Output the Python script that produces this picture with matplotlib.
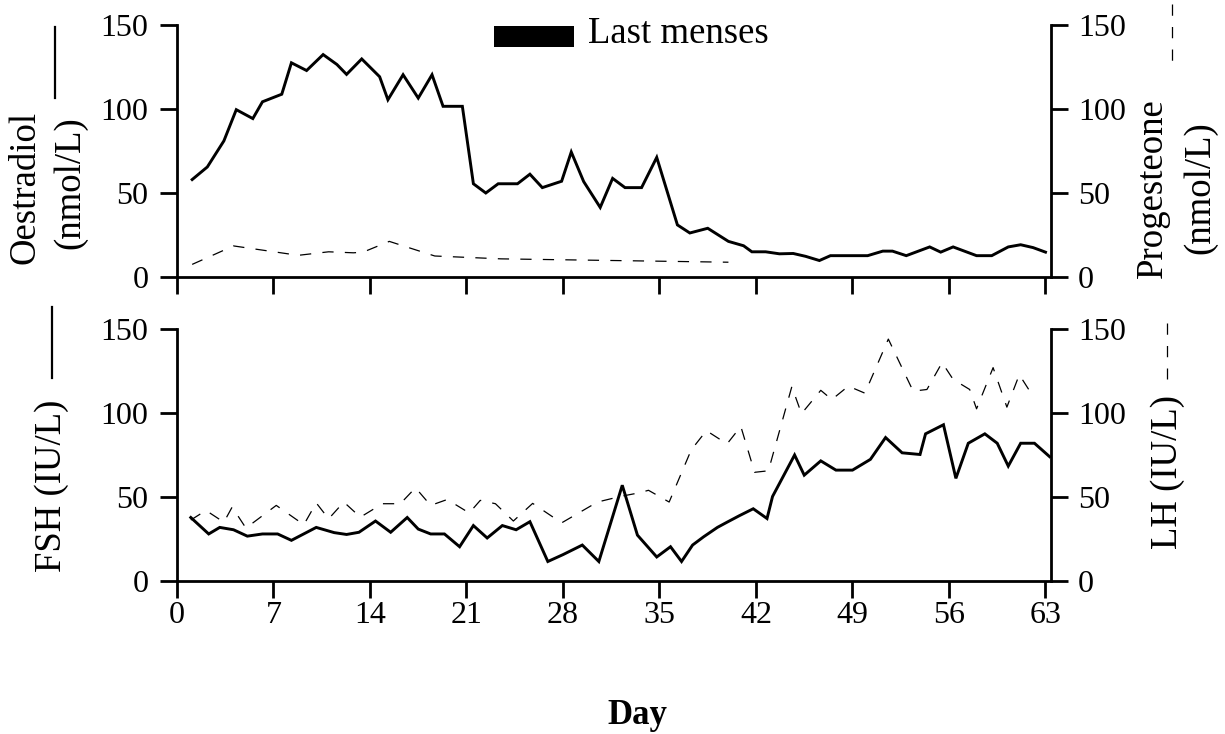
import matplotlib
matplotlib.use('Agg')
import matplotlib.pyplot as plt
from matplotlib.lines import Line2D
from matplotlib.patches import Rectangle
import numpy as np

plt.rcParams['font.family'] = ['Liberation Serif', 'DejaVu Serif']

# Oestradiol (top, solid)
oe_day = [1.1, 2.2, 3.4, 4.3, 5.5, 6.2, 7.6, 8.3, 9.4, 10.6, 11.6, 12.3, 13.4,
          14.7, 15.3, 16.4, 17.5, 18.5, 19.3, 20.7, 21.5, 22.4, 23.3, 24.7,
          25.6, 26.5, 27.9, 28.6, 29.5, 30.7, 31.6, 32.5, 33.7, 34.8, 36.3,
          37.2, 38.5, 40.0, 41.1, 41.7, 42.7, 43.7, 44.7, 45.6, 46.6, 47.4,
          50.1, 51.2, 51.9, 52.9, 54.6, 55.4, 56.3, 58.0, 59.1, 60.3, 61.2,
          62.1, 63.0]
oe_val = [58, 65.5, 81, 99.6, 94.3, 104.3, 108.8, 127.5, 122.9, 132.4, 126.5,
          120.6, 129.8, 119.2, 105.5, 120.4, 106.5, 120.4, 101.6, 101.6, 55.5,
          50, 55.5, 55.5, 61.2, 53.2, 57, 74.4, 56.8, 41.4, 58.7, 53.2, 53.2,
          71.2, 31, 26.2, 29, 21.2, 18.6, 15, 15, 13.8, 14, 12.3, 9.8, 12.7,
          12.7, 15.4, 15.4, 12.7, 17.9, 14.8, 17.9, 12.7, 12.7, 17.9, 19.2,
          17.5, 14.8]

# Progesterone (top, dashed)
pg_day = [1.1, 4.1, 8.8, 11.0, 12.8, 13.5, 15.4, 18.7, 23.5, 40.0]
pg_val = [7.5, 18.5, 12.9, 15, 14.4, 14.8, 21.2, 12.5, 10.8, 8.8]

# FSH (bottom, solid)
fsh_day = [1.0, 2.3, 3.1, 4.1, 5.1, 6.2, 7.3, 8.3, 10.1, 11.4, 12.3, 13.2,
           14.4, 15.5, 16.7, 17.5, 18.4, 19.4, 20.5, 21.5, 22.5, 23.6, 24.6,
           25.6, 26.9, 28.0, 29.4, 30.6, 32.3, 33.4, 34.8, 35.8, 36.6, 37.4,
           38.2, 39.2, 39.9, 40.8, 41.8, 42.8, 43.2, 44.8, 45.5, 46.7, 47.8,
           49.0, 50.3, 51.4, 52.6, 53.9, 54.3, 55.6, 56.5, 57.4, 58.6, 59.5,
           60.3, 61.2, 62.2, 63.3]
fsh_val = [37.8, 28, 31.9, 30.5, 26.7, 28, 28, 24.2, 31.9, 28.8, 27.7, 29,
           35.7, 29, 37.8, 30.9, 28, 28, 20.4, 33, 25.6, 33, 30.5, 35.3, 11.6,
           15.7, 21.4, 11.6, 57, 27.3, 14.3, 20.4, 11.6, 21.4, 26.3, 31.9, 35,
           38.9, 43, 37.2, 50.3, 75, 63, 71.5, 66, 66, 72.4, 85.4, 76.3, 75.3,
           87.6, 93, 61.1, 82, 87.6, 82, 68.4, 82, 82, 74]

# LH (bottom, dashed)
lh_day = [1.0, 2.1, 3.4, 4.0, 5.0, 7.2, 9.2, 10.1, 11.0, 12.1, 13.3, 14.9,
          16.2, 17.3, 18.4, 19.6, 21.2, 22.0, 23.1, 24.4, 25.8, 27.9, 30.5,
          32.2, 33.6, 34.2, 35.7, 37.3, 38.4, 39.9, 40.9, 41.9, 42.9, 44.6,
          45.3, 46.7, 47.5, 48.7, 49.9, 51.6, 53.4, 54.4, 55.5, 56.3, 57.5,
          58.0, 59.2, 60.2, 61.1, 61.9, 62.3]
lh_val = [36.3, 42, 35, 44, 31.5, 45, 33.5, 46.5, 37, 47, 38, 46, 46, 55.5,
          45, 48.5, 40.5, 48, 46, 35.7, 46.2, 34.6, 47, 50.4, 52.6, 54, 47,
          78, 89.5, 81.6, 92, 64.7, 65.6, 115.7, 99.6, 113.5, 108, 116, 111.8,
          144, 113, 114, 130, 120, 114, 102.5, 127, 103.5, 122.8, 112.5, 114]

x_ticks = [0, 7, 14, 21, 28, 35, 42, 49, 56, 63]
y_ticks = [0, 50, 100, 150]

W, H = 1225, 734
fig = plt.figure(figsize=(W / 100, H / 100), dpi=100)

solid = dict(color='black', linewidth=2.1, solid_joinstyle='miter')
dashed = dict(color='black', linewidth=0.9, linestyle=(0, (9, 9)))
tick_fs = 23
lab_fs = 26.5


def fx(px):
    return px / W


def fy(py):
    return 1 - py / H


def style_axes(ax, ax2, show_xlabels):
    ax.set_xlim(0, 63.4)
    ax.set_ylim(0, 150)
    ax2.set_ylim(0, 150)
    ax.set_xticks(x_ticks)
    ax.set_yticks(y_ticks)
    ax2.set_yticks(y_ticks)
    for s in ['top', 'right']:
        ax.spines[s].set_visible(False)
    for s in ['top', 'left', 'bottom']:
        ax2.spines[s].set_visible(False)
    for s in ['left', 'bottom']:
        ax.spines[s].set_linewidth(2)
    ax2.spines['right'].set_linewidth(2)
    ax.tick_params(axis='both', direction='out', length=12.5, width=2,
                   labelsize=tick_fs)
    ax.tick_params(axis='y', pad=8)
    ax.tick_params(axis='x', pad=2, labelbottom=show_xlabels)
    ax2.tick_params(axis='y', direction='out', length=12.5, width=2,
                    labelsize=tick_fs, pad=7)


# top panel
ax_top = fig.add_axes([fx(177), fy(277), fx(1051) - fx(177), fy(25) - fy(277)])
ax_top2 = ax_top.twinx()
ax_top.plot(oe_day, oe_val, **solid)
ax_top2.plot(pg_day, pg_val, **dashed)
style_axes(ax_top, ax_top2, False)

# bottom panel
ax_bot = fig.add_axes([fx(177), fy(581), fx(1051) - fx(177), fy(329) - fy(581)])
ax_bot2 = ax_bot.twinx()
ax_bot.plot(fsh_day, fsh_val, **solid)
ax_bot2.plot(lh_day, lh_val, **dashed)
style_axes(ax_bot, ax_bot2, True)

# axis labels (rotated, placed by hand like the original)
txt = dict(rotation=90, ha='center', va='center', rotation_mode='anchor',
           fontsize=lab_fs)
fig.text(fx(25), fy(187), 'Oestradiol', **txt)
fig.text(fx(70), fy(183), '(nmol/L)', **txt)
fig.text(fx(1153), fy(188), 'Progesteone', **txt)
fig.text(fx(1200), fy(188), '(nmol/L)', **txt)
fig.text(fx(52), fy(486), 'FSH (IU/L)', **txt)
fig.text(fx(1168), fy(472), 'LH (IU/L)', **txt)

# line keys next to the labels
fig.add_artist(Line2D([fx(55), fx(55)], [fy(27), fy(98)],
                      transform=fig.transFigure, color='black', linewidth=1.6))
fig.add_artist(Line2D([fx(52), fx(52)], [fy(307), fy(378)],
                      transform=fig.transFigure, color='black', linewidth=1.6))
fig.add_artist(Line2D([fx(1172), fx(1172)], [fy(4), fy(62)],
                      transform=fig.transFigure, **dashed))
fig.add_artist(Line2D([fx(1167), fx(1167)], [fy(323), fy(379)],
                      transform=fig.transFigure, **dashed))

# "Last menses" key
fig.add_artist(Rectangle((fx(494), fy(47)), fx(574) - fx(494), fy(26) - fy(47),
                         transform=fig.transFigure, facecolor='black',
                         edgecolor='none'))
fig.text(fx(588), fy(34), 'Last menses', fontsize=lab_fs, ha='left',
         va='center')

fig.text(fx(637), fy(715), 'Day', fontsize=25, fontweight='bold',
         ha='center', va='center')

plt.savefig('out.png', dpi=100)
